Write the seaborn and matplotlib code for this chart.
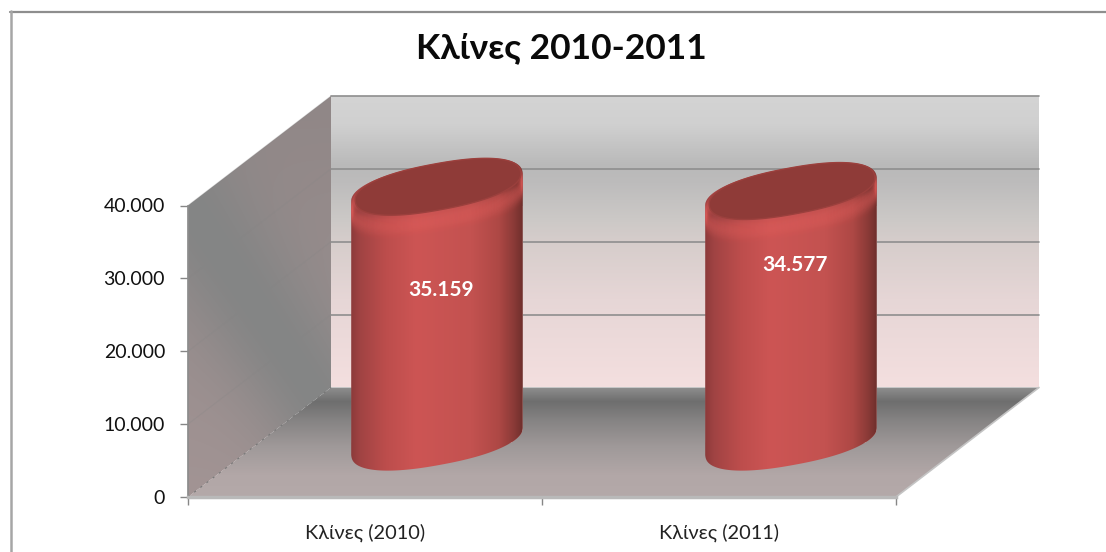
import numpy as np
import pandas as pd
import matplotlib
matplotlib.use("Agg")
import matplotlib.pyplot as plt
from matplotlib.colors import LinearSegmentedColormap as LSC
from matplotlib.patches import Polygon
from matplotlib.transforms import Affine2D
import seaborn as sns

# ---- data
categories = ["Κλίνες (2010)", "Κλίνες (2011)"]
values = [35159, 34577]
value_labels = ["35.159", "34.577"]
y_ticks = [0, 10000, 20000, 30000, 40000]
y_tick_labels = ["0", "10.000", "20.000", "30.000", "40.000"]
title_text = "Κλίνες 2010-2011"

W, H = 1106, 552
FONT = ["Lato", "Noto Sans", "DejaVu Sans"]
sns.set_theme(style="white")
plt.rcParams["font.family"] = FONT

fig = plt.figure(figsize=(W / 100, H / 100), dpi=100, facecolor="white")

def px_axes(z):
    a = fig.add_axes([0, 0, 1, 1], zorder=z)
    a.set_axis_off()
    a.patch.set_alpha(0)
    a.set_xlim(0, W)
    a.set_ylim(H, 0)
    return a

bg = px_axes(0)
L, R, Y0, Y40 = 188, 896, 497, 205.5
DX, DY = 143, -109.5
ax = fig.add_axes([L / W, 1 - Y0 / H, (R - L) / W, (Y0 - Y40) / H], zorder=1)
ax.patch.set_alpha(0)
fg = px_axes(2)

# ---- main axis + seaborn bars
df = pd.DataFrame({"cat": categories, "val": values})
sns.barplot(data=df, x="cat", y="val", ax=ax, color="#c5504e", width=0.483,
            saturation=1)
ax.set_xlim(-0.5, 1.5)
ax.set_ylim(0, 40000)
ax.set_xlabel("")
ax.set_ylabel("")
ax.set_yticks(y_ticks, y_tick_labels)
ax.set_xticks([0, 1], categories)
ax.set_xticks([-0.5, 0.5, 1.5], minor=True)
ax.tick_params(axis="x", which="major", length=0, pad=19, labelsize=14.4, labelcolor="#222222")
ax.tick_params(axis="x", which="minor", length=6, width=1, color="#868686", bottom=True)
ax.tick_params(axis="y", length=6, width=1, color="#868686", left=True, pad=10.5, labelsize=14, labelcolor="#111111")
for s in ["top", "right"]:
    ax.spines[s].set_visible(False)
ax.spines["left"].set_color("#8c8c8c")
ax.spines["bottom"].set_color("#b9b9b9")
ax.spines["bottom"].set_linewidth(2.5)

def val_y(v):
    return Y0 - v * (Y0 - Y40) / 40000

def grad(a, stops, extent, clip, vertical=True, z=1):
    cmap = LSC.from_list("g", list(stops))
    t = np.linspace(0, 1, 256)
    arr = t[:, None] if vertical else t[None, :]
    x0, x1, y0, y1 = extent
    im = a.imshow(arr, cmap=cmap, vmin=0, vmax=1, extent=(x0, x1, y1, y0),
                  aspect="auto", origin="upper", zorder=z, interpolation="bilinear")
    im.set_clip_path(clip)
    a.set_xlim(0, W)
    a.set_ylim(H, 0)
    return im

# ---- frame
bg.plot([10, W], [11.5, 11.5], color="#8e8e8e", lw=1.6, zorder=5)
bg.plot([10.5, 10.5], [11, H], color="#a6a6a6", lw=1.8, zorder=5)

# ---- walls
BL, BR = L + DX, R + DX
BT, BB = Y40 + DY, Y0 + DY
back = Polygon([(BL, BT), (BR, BT), (BR, BB), (BL, BB)], closed=True, fc="none", ec="none", transform=bg.transData)
bg.add_patch(back)
grad(bg, [(0, "#d4d4d4"), (.1, "#d0d0d0"), (.24, "#b9b9b9"), (.3, "#bdbcbc"), (.42, "#cbc8c6"),
          (.5, "#d6cdcb"), (.7, "#e6d6d6"), (1, "#f4dfdf")], (BL, BR, BT, BB), back)

floor = Polygon([(L, Y0), (BL, BB), (BR, BB), (R, Y0)], closed=True, fc="none", ec="none", transform=bg.transData)
bg.add_patch(floor)
grad(bg, [(0, "#8f8f8f"), (.13, "#6e6e6e"), (.3, "#858383"), (.55, "#a09a9a"), (.8, "#b2a7a7"), (1, "#b4a9a9")],
     (L, BR, BB, Y0), floor)

side = Polygon([(L, Y40), (BL, BT), (BL, BB), (L, Y0)], closed=True, fc="none", ec="none", transform=bg.transData)
bg.add_patch(side)
xs = np.linspace(0, 1, 80)[None, :]
ys = np.linspace(0, 1, 120)[:, None]
band = np.exp(-((ys - (0.27 + 0.53 * xs)) / 0.28) ** 2)
c_cool = np.array([0x84, 0x85, 0x85])[None, None, :]
c_warm = np.array([0x90, 0x87, 0x87])[None, None, :] + np.array([0x12, 0x0d, 0x0d])[None, None, :] * ys[..., None]
rgb = (c_warm + (c_cool - c_warm) * band[..., None]) / 255
imw = bg.imshow(rgb, extent=(L, BL, Y0, BT), aspect="auto", origin="upper", zorder=1, interpolation="bilinear")
imw.set_clip_path(side)
bg.set_xlim(0, W)
bg.set_ylim(H, 0)

# ---- grid lines on walls
for v in y_ticks[1:]:
    y = val_y(v)
    bg.plot([L, BL], [y, y + DY], color="#858585", lw=0.8, alpha=0.25, zorder=3)
    bg.plot([BL, BR], [y + DY, y + DY], color="#8e8e8e", lw=1.2, zorder=3)
bg.plot([L, BL], [Y0, BB], color="#777777", lw=0.8, ls=(0, (2, 5)), zorder=3)
bg.plot([R, BR], [Y0, BB], color="#c4c4c4", lw=1.2, zorder=3)

# ---- cylinders, sized from the seaborn bars
A, B, TH, N = 87.0, 24.0, np.deg2rad(-10.5), 2.3
CX_SHIFT, CY_SHIFT = 72, -55

def loop(cx, cy, da=0.0, db=0.0):
    t = np.linspace(0, 2 * np.pi, 400, endpoint=False)
    u = (A + da) * np.sign(np.cos(t)) * np.abs(np.cos(t)) ** (2 / N)
    v = (B + db) * np.sign(np.sin(t)) * np.abs(np.sin(t)) ** (2 / N)
    return np.c_[cx + u * np.cos(TH) - v * np.sin(TH), cy + u * np.sin(TH) + v * np.cos(TH)]

def arcs(cx, cy):
    p = loop(cx, cy)
    il, ir = p[:, 0].argmin(), p[:, 0].argmax()
    p = np.roll(p, -il, axis=0)
    k = (ir - il) % len(p)
    first, second = p[:k + 1], np.r_[p[k:], p[:1]][::-1]
    if first[:, 1].mean() < second[:, 1].mean():
        return first, second
    return second, first

label_offsets = [49, 19.5]
for i, bar in enumerate(ax.patches):
    xc_data = bar.get_x() + bar.get_width() / 2
    h = bar.get_height()
    cx = L + (xc_data + 0.5) / 2 * (R - L) + CX_SHIFT
    base_y = Y0 + CY_SHIFT - 1
    top_y = val_y(h) + CY_SHIFT + 2
    up, _ = arcs(cx, top_y)
    _, lo = arcs(cx, base_y)
    outline = np.r_[up, lo[::-1]]
    sil = Polygon(outline, closed=True, fc="none", ec="none", transform=fg.transData)
    fg.add_patch(sil)
    # the bar itself is moved back to mid depth and trimmed to the cylinder outline
    bar.set_transform(Affine2D().translate(CX_SHIFT / (R - L) * 2, 0) + ax.transData
                      + Affine2D().translate(0, -CY_SHIFT))
    bar.set_clip_path(sil)
    x0, x1 = outline[:, 0].min(), outline[:, 0].max()
    grad(fg, [(0, "#8c3a3a"), (.05, "#a04343"), (.2, "#bc4d4c"), (.38, "#cd5554"), (.7, "#c35250"),
              (.86, "#ae4845"), (.95, "#8a3a37"), (1, "#6f2f2c")],
         (x0, x1, top_y - 40, base_y + 40), sil, vertical=False, z=1)
    # soft light band below the cap
    for k in range(1, 30):
        e = Polygon(loop(cx, top_y + k), closed=True, fc="none", ec="#e8615e", lw=2.5,
                    alpha=0.12 * np.exp(-((k - 9) / 9) ** 2), zorder=2)
        fg.add_patch(e)
        e.set_clip_path(sil)
    cap = Polygon(loop(cx + 1, top_y - 1, -3, -1), closed=True, fc="#8f3b38", ec="#9b403d", lw=1, zorder=3)
    fg.add_patch(cap)
    fg.text(cx + 4, val_y(h) + label_offsets[i], value_labels[i], color="white", fontweight="bold",
            fontsize=15, ha="center", va="center", zorder=5)

fig.text(561 / W, 1 - 48 / H, title_text, fontsize=25.5, fontweight="bold", color="#0a0a0a",
         ha="center", va="center")

fig.savefig("out.png", dpi=100)
